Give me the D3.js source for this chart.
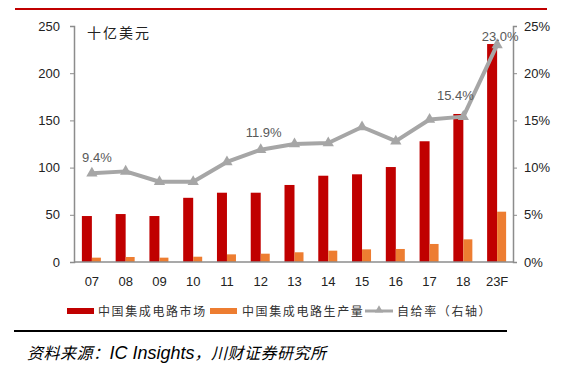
<!DOCTYPE html>
<html>
<head>
<meta charset="utf-8">
<script src="https://cdn.jsdelivr.net/npm/d3@7"></script>
<style>
  body { margin: 0; background: #fff; }
  svg { display: block; font-family: "Liberation Sans", Arial, sans-serif; }
</style>
</head>
<body>
<svg id="chart" width="564" height="370"></svg>
<script>
'use strict';

var years = ['07', '08', '09', '10', '11', '12', '13', '14', '15', '16', '17', '18', '23F'];
var marketValues = [48.7, 50.8, 48.7, 68, 73.4, 73.4, 81.6, 91.4, 92.9, 100.6, 127.9, 156.8, 230.9];
var productionValues = [4.6, 5.3, 4.6, 5.6, 8.1, 8.8, 10.3, 12, 13.4, 13.8, 19.1, 24, 53.3];
var selfRate = [9.4, 9.6, 8.5, 8.5, 10.6, 11.9, 12.5, 12.6, 14.3, 12.8, 15.1, 15.4, 23.0];
var leftTicks = [0, 50, 100, 150, 200, 250];
var rightTicks = [0, 5, 10, 15, 20, 25];
var labelled = ['07', '12', '18', '23F'];

var red = '#c00000';
var orange = '#ed7d31';
var grey = '#a6a6a6';
var axisGrey = '#8c8c8c';
var cjk = '"Noto Sans CJK SC", sans-serif';

var svg = d3.select('#chart');

var plotLeft = 74, plotRight = 513, plotTop = 26, plotBottom = 262;

var x = d3.scaleBand().domain(years).range([plotLeft, plotRight]);
var yL = d3.scaleLinear().domain([0, 250]).range([plotBottom, plotTop]);
var yR = d3.scaleLinear().domain([0, 25]).range([plotBottom, plotTop]);

// top red rule
svg.append('line')
  .attr('x1', 15).attr('x2', 547)
  .attr('y1', 9).attr('y2', 9)
  .attr('stroke', red).attr('stroke-width', 2);

// left axis
var gL = svg.append('g')
  .attr('transform', 'translate(' + plotLeft + ',0)')
  .call(d3.axisLeft(yL).tickValues(leftTicks).tickSize(4).tickPadding(10));
gL.select('.domain').attr('stroke', axisGrey).attr('stroke-width', 1.5);
gL.selectAll('.tick line').attr('stroke', axisGrey);
gL.selectAll('.tick text').attr('font-size', 13).attr('fill', '#222')
  .attr('font-family', '"Liberation Sans", Arial, sans-serif');

// right axis
var gR = svg.append('g')
  .attr('transform', 'translate(' + plotRight + ',0)')
  .call(d3.axisRight(yR).tickValues(rightTicks).tickSize(4).tickPadding(7)
    .tickFormat(function (d) { return d + '%'; }));
gR.select('.domain').attr('stroke', axisGrey).attr('stroke-width', 1.5);
gR.selectAll('.tick line').attr('stroke', axisGrey);
gR.selectAll('.tick text').attr('font-size', 13).attr('fill', '#222')
  .attr('font-family', '"Liberation Sans", Arial, sans-serif');

// bars
var barW = 10;
svg.append('g').selectAll('rect')
  .data(marketValues)
  .enter().append('rect')
  .attr('x', function (d, i) { return x(years[i]) + x.bandwidth() / 2 - barW + 1; })
  .attr('y', function (d) { return yL(d); })
  .attr('width', barW)
  .attr('height', function (d) { return plotBottom - yL(d); })
  .attr('fill', red);

svg.append('g').selectAll('rect')
  .data(productionValues)
  .enter().append('rect')
  .attr('x', function (d, i) { return x(years[i]) + x.bandwidth() / 2 + 1; })
  .attr('y', function (d) { return yL(d); })
  .attr('width', 9)
  .attr('height', function (d) { return plotBottom - yL(d); })
  .attr('fill', orange);

// x baseline
svg.append('line')
  .attr('x1', plotLeft).attr('x2', plotRight)
  .attr('y1', plotBottom).attr('y2', plotBottom)
  .attr('stroke', axisGrey).attr('stroke-width', 1.5);

// x labels
svg.append('g').selectAll('text')
  .data(years)
  .enter().append('text')
  .attr('x', function (d) { return x(d) + x.bandwidth() / 2 + 1; })
  .attr('y', 286)
  .attr('text-anchor', 'middle')
  .attr('font-size', 13)
  .attr('fill', '#222')
  .text(function (d) { return d; });

// rate line
var cx = function (i) { return x(years[i]) + x.bandwidth() / 2 + 1; };
var line = d3.line()
  .x(function (d, i) { return cx(i); })
  .y(function (d) { return yR(d); });

svg.append('path')
  .datum(selfRate)
  .attr('d', line)
  .attr('fill', 'none')
  .attr('stroke', grey)
  .attr('stroke-width', 4)
  .attr('stroke-linejoin', 'round');

var tri = d3.symbol().type(d3.symbolTriangle).size(55);
svg.append('g').selectAll('path')
  .data(selfRate)
  .enter().append('path')
  .attr('d', tri)
  .attr('transform', function (d, i) { return 'translate(' + cx(i) + ',' + yR(d) + ')'; })
  .attr('fill', grey);

// value labels
var labelOffsets = { '07': [5, -11], '12': [3, -12.5], '18': [-8, -17], '23F': [3, -4] };
svg.append('g').selectAll('text')
  .data(labelled)
  .enter().append('text')
  .attr('x', function (d) { return cx(years.indexOf(d)) + labelOffsets[d][0]; })
  .attr('y', function (d) { return yR(selfRate[years.indexOf(d)]) + labelOffsets[d][1]; })
  .attr('text-anchor', 'middle')
  .attr('font-size', 13)
  .attr('fill', '#595959')
  .text(function (d) { return selfRate[years.indexOf(d)].toFixed(1) + '%'; });

// unit label
svg.append('text')
  .attr('x', 87).attr('y', 38)
  .attr('font-size', 14)
  .attr('font-family', cjk)
  .attr('fill', '#222')
  .attr('letter-spacing', 2)
  .text('十亿美元');

// legend
var legend = svg.append('g').attr('font-family', cjk).attr('font-size', 12).attr('fill', '#333');
legend.append('rect').attr('x', 67).attr('y', 308).attr('width', 27).attr('height', 6).attr('fill', red);
legend.append('text').attr('x', 98).attr('y', 315.5).attr('letter-spacing', 1.6).text('中国集成电路市场');
legend.append('rect').attr('x', 210).attr('y', 308).attr('width', 27).attr('height', 6).attr('fill', orange);
legend.append('text').attr('x', 242).attr('y', 315.5).attr('letter-spacing', 1.6).text('中国集成电路生产量');
legend.append('line').attr('x1', 365).attr('x2', 393).attr('y1', 311).attr('y2', 311)
  .attr('stroke', grey).attr('stroke-width', 3);
legend.append('path').attr('d', d3.symbol().type(d3.symbolTriangle).size(30))
  .attr('transform', 'translate(379,310)').attr('fill', grey);
legend.append('text').attr('x', 397).attr('y', 315.5).attr('letter-spacing', 1.6).text('自给率（右轴）');

// bottom black rule
svg.append('line')
  .attr('x1', 14).attr('x2', 507)
  .attr('y1', 331).attr('y2', 331)
  .attr('stroke', '#000').attr('stroke-width', 2);

// source
var src = svg.append('text')
  .attr('x', 27).attr('y', 359)
  .attr('font-size', 16)
  .attr('font-style', 'italic')
  .attr('fill', '#000');
src.append('tspan').attr('font-family', cjk).attr('letter-spacing', 0.5).text('资料来源：');
src.append('tspan').attr('font-family', '"Liberation Sans", Arial, sans-serif').attr('font-size', 18).text('IC Insights');
src.append('tspan').attr('font-family', cjk).attr('letter-spacing', 0.5).text('，川财证券研究所');
</script>
</body>
</html>
